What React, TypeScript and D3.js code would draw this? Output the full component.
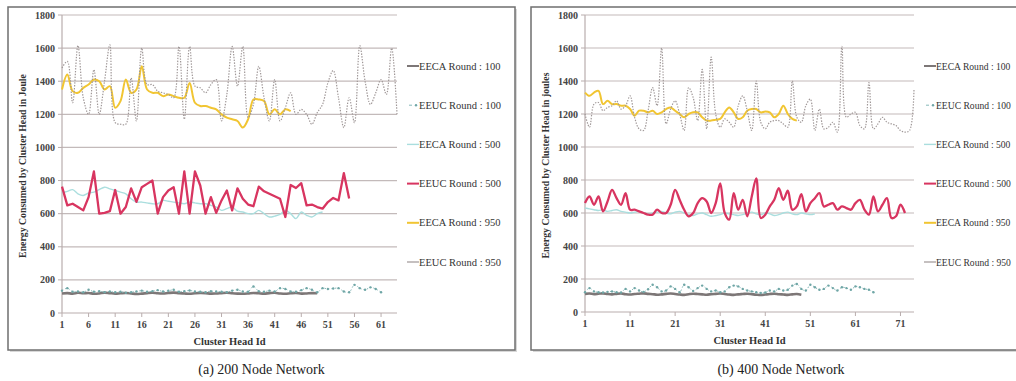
import React from 'react';
import * as d3 from 'd3';

const FONT = "'Liberation Serif', 'Times New Roman', serif";

const yTicks = [0, 200, 400, 600, 800, 1000, 1200, 1400, 1600, 1800];
const aXTicks = [1, 6, 11, 16, 21, 26, 31, 36, 41, 46, 51, 56, 61];
const bXTicks = [1, 11, 21, 31, 41, 51, 61, 71];
const seriesNames = ['EECA Round : 100', 'EEUC Round : 100', 'EECA Round : 500', 'EEUC Round : 500', 'EECA Round : 950', 'EEUC Round : 950'];

// (a) 200 node network
const aEECA100 = [118, 120, 117, 122, 119, 121, 116, 118, 123, 120, 117, 119, 121, 118, 115, 117, 120, 122, 119, 118, 121, 123, 120, 118, 116, 119, 121, 120, 117, 118, 120, 122, 119, 117, 116, 118, 121, 119, 117, 120, 122, 118, 116, 119, 121, 117, 118, 120, 119];
const aEEUC100 = [135, 150, 128, 130, 125, 140, 128, 132, 126, 130, 125, 128, 122, 126, 130, 135, 128, 132, 138, 130, 134, 140, 128, 132, 136, 130, 128, 125, 132, 130, 128, 126, 135, 140, 130, 128, 160, 132, 128, 135, 130, 150, 145, 130, 128, 138, 150, 140, 125, 150, 145, 148, 150, 130, 125, 170, 150, 140, 155, 145, 125];
const aEECA500 = [725, 735, 745, 720, 710, 725, 730, 745, 760, 750, 740, 730, 720, 690, 670, 670, 665, 660, 660, 680, 675, 670, 665, 660, 670, 665, 660, 660, 650, 640, 620, 630, 640, 615, 610, 600, 600, 620, 600, 580, 585, 595, 620, 600, 570, 610, 590, 580, 600, 610];
const aEEUC500 = [763, 650, 660, 640, 620, 700, 855, 600, 605, 615, 743, 600, 640, 753, 671, 760, 780, 800, 600, 700, 740, 760, 600, 855, 600, 855, 770, 600, 700, 605, 680, 740, 620, 753, 690, 655, 645, 763, 735, 720, 705, 690, 580, 773, 755, 784, 650, 655, 640, 630, 670, 695, 680, 845, 692];
const aEECA950 = [1350, 1440, 1340, 1330, 1360, 1380, 1410, 1400, 1350, 1370, 1240, 1280, 1410, 1330, 1350, 1490, 1350, 1330, 1330, 1310, 1320, 1310, 1300, 1300, 1390, 1270, 1250, 1250, 1240, 1230, 1200, 1180, 1170, 1160, 1120, 1170, 1290, 1290, 1280, 1200, 1230, 1200, 1230, 1220];
const aEEUC950 = [1480, 1520, 1270, 1615, 1300, 1200, 1470, 1200, 1400, 1620, 1150, 1140, 1140, 1420, 1160, 1600, 1380, 1380, 1340, 1330, 1320, 1300, 1610, 1170, 1610, 1370, 1360, 1330, 1380, 1410, 1160, 1320, 1610, 1370, 1610, 1180, 1260, 1490, 1300, 1160, 1410, 1160, 1240, 1330, 1200, 1230, 1200, 1140, 1210, 1260, 1390, 1465, 1300, 1120, 1300, 1150, 1615, 1400, 1260, 1330, 1410, 1320, 1600, 1200];

// (b) 400 node network
const bEECA100 = [110, 112, 108, 111, 113, 109, 107, 110, 112, 108, 106, 109, 111, 113, 110, 108, 105, 107, 110, 112, 109, 106, 104, 108, 111, 109, 107, 105, 108, 110, 112, 109, 106, 104, 107, 109, 111, 108, 105, 103, 106, 109, 111, 108, 106, 104, 107, 109, 105];
const bEEUC100 = [120, 145, 125, 120, 118, 122, 125, 120, 118, 140, 125, 145, 130, 122, 138, 165, 150, 125, 130, 155, 140, 120, 165, 150, 128, 145, 160, 140, 125, 130, 120, 125, 150, 160, 155, 140, 130, 125, 120, 115, 118, 130, 125, 140, 130, 135, 160, 170, 140, 130, 165, 150, 135, 140, 160, 145, 130, 150, 145, 135, 155, 150, 140, 135, 120];
const bEECA500 = [630, 625, 620, 615, 620, 610, 615, 620, 610, 605, 600, 605, 610, 600, 595, 600, 605, 610, 600, 595, 605, 610, 600, 590, 585, 595, 600, 590, 580, 585, 590, 600, 595, 590, 585, 590, 600, 605, 595, 590, 600, 595, 585, 590, 600, 605, 595, 590, 600, 595, 590, 595];
const bEEUC500 = [660, 700, 650, 700, 610, 670, 740, 690, 650, 720, 620, 620, 610, 600, 590, 590, 620, 600, 600, 650, 740, 680, 620, 580, 600, 660, 690, 670, 600, 660, 780, 600, 560, 720, 620, 680, 580, 700, 810, 570, 590, 640, 680, 750, 680, 735, 620, 640, 715, 610, 660, 690, 720, 640, 650, 660, 620, 640, 630, 620, 660, 680, 620, 590, 700, 610, 650, 690, 570, 580, 650, 600];
const bEECA950 = [1330, 1310, 1330, 1340, 1260, 1280, 1260, 1260, 1250, 1250, 1230, 1190, 1220, 1220, 1210, 1220, 1200, 1210, 1230, 1240, 1220, 1200, 1180, 1200, 1210, 1210, 1180, 1160, 1160, 1165, 1170, 1210, 1240, 1210, 1170, 1180, 1220, 1230, 1230, 1210, 1215, 1210, 1180, 1200, 1250, 1200, 1170, 1160];
const bEEUC950 = [1200, 1120, 1260, 1270, 1220, 1240, 1250, 1280, 1230, 1250, 1310, 1180, 1110, 1100, 1220, 1360, 1250, 1600, 1140, 1230, 1280, 1200, 1100, 1360, 1300, 1160, 1470, 1110, 1545, 1200, 1120, 1170, 1150, 1120, 1250, 1310, 1220, 1100, 1400, 1150, 1110, 1150, 1160, 1160, 1140, 1120, 1400, 1180, 1150, 1250, 1290, 1100, 1230, 1110, 1120, 1150, 1090, 1610, 1180, 1200, 1210, 1130, 1110, 1390, 1110, 1140, 1180, 1150, 1140, 1130, 1100, 1090, 1100, 1350];

interface SeriesStyle { color: string; width: number; dash?: string; marker?: boolean; }

const styles: SeriesStyle[] = [
  { color: '#7d7777', width: 2.6 },
  { color: '#86b8b8', width: 1, dash: '1.5 2', marker: true },
  { color: '#aadede', width: 1.4 },
  { color: '#d83560', width: 2.3 },
  { color: '#f1c532', width: 2 },
  { color: '#9f9797', width: 1.2, dash: '1.4 1.4' },
];

interface PanelProps {
  left: number; right: number; top: number; bottom: number;
  frame: [number, number, number, number];
  lastCat: number;
  xTicks: number[];
  series: number[][];
  sharp?: boolean[];
  legendX: number;
  legendFont: number;
  yTitle: string;
  caption: string;
}

function Panel(p: PanelProps) {
  const x = d3.scaleLinear().domain([1, p.lastCat]).range([p.left, p.right]);
  const y = d3.scaleLinear().domain([0, 1800]).range([p.bottom, p.top]);
  const legendY = d3.scalePoint<string>().domain(seriesNames).range([66, 262]);
  const midY = (p.top + p.bottom) / 2;
  const midX = (p.left + p.right) / 2;
  const [fx, fy, fw, fh] = p.frame;

  return (
    <g>
      <rect x={fx + 2} y={fy + 2} width={fw} height={fh} fill="#d8d8d8" />
      <rect x={fx} y={fy} width={fw} height={fh} fill="#fff" stroke="#6f6f6f" strokeWidth={1.5} />
      {yTicks.map(t => (
        <g key={t}>
          {t > 0 && <line x1={p.left} x2={p.right} y1={y(t)} y2={y(t)} stroke="#c3baba" strokeWidth={1.2} />}
          <line x1={p.left - 4} x2={p.left} y1={y(t)} y2={y(t)} stroke="#b9adad" />
          <text x={p.left - 7} y={y(t) + 3.5} textAnchor="end" fontFamily={FONT} fontSize={10} fontWeight="bold" fill="#444">{t}</text>
        </g>
      ))}
      <line x1={p.left} x2={p.left} y1={p.top} y2={p.bottom} stroke="#b9adad" strokeWidth={1.2} />
      <line x1={p.left} x2={p.right} y1={p.bottom} y2={p.bottom} stroke="#b9adad" strokeWidth={1.2} />
      {p.xTicks.map(t => (
        <g key={t}>
          <line x1={x(t)} x2={x(t)} y1={p.bottom} y2={p.bottom + 4} stroke="#b9adad" />
          <text x={x(t)} y={p.bottom + 15} textAnchor="middle" fontFamily={FONT} fontSize={10} fontWeight="bold" fill="#444">{t}</text>
        </g>
      ))}
      {p.series.map((vals, si) => {
        const st = styles[si];
        const line = d3.line<number>()
          .x((_, i) => x(i + 1))
          .y(v => y(v))
          .curve(p.sharp && p.sharp[si] ? d3.curveLinear : d3.curveCatmullRom.alpha(0.5));
        return (
          <g key={si}>
            <path d={line(vals) || ''} fill="none" stroke={st.color} strokeWidth={st.width}
              strokeDasharray={st.dash} strokeLinejoin="round" />
            {st.marker && vals.map((v, i) => (
              <circle key={i} cx={x(i + 1)} cy={y(v)} r={1.2} fill="#6fa6a6" />
            ))}
          </g>
        );
      })}
      {seriesNames.map((name, si) => {
        const st = styles[si];
        const ly = legendY(name)!;
        return (
          <g key={name}>
            {st.marker ? (
              <g>
                <line x1={p.legendX + 2} x2={p.legendX + 5} y1={ly} y2={ly} stroke={st.color} strokeWidth={1} />
                <circle cx={p.legendX + 9} cy={ly} r={1.2} fill="#6fa6a6" />
              </g>
            ) : (
              <line x1={p.legendX} x2={p.legendX + 12} y1={ly} y2={ly} stroke={st.color} strokeWidth={Math.min(st.width, 2)} />
            )}
            <text x={p.legendX + 12} y={ly + 3.5} fontFamily={FONT} fontSize={p.legendFont} fill="#333">{name}</text>
          </g>
        );
      })}
      <text transform={`translate(${fx + 18},${midY + 2}) rotate(-90)`} textAnchor="middle"
        fontFamily={FONT} fontSize={9.8} fontWeight="bold" fill="#333">{p.yTitle}</text>
      <text x={midX} y={p.bottom + 32} textAnchor="middle" fontFamily={FONT} fontSize={10.5} fontWeight="bold" fill="#333">Cluster Head Id</text>
      <text x={(fx + fx + fw) / 2} y={374} textAnchor="middle" fontFamily={FONT} fontSize={14} fill="#222">{p.caption}</text>
    </g>
  );
}

export default function App() {
  return (
    <svg width={1016} height={381} style={{ position: 'absolute', left: 0, top: 0, background: '#fff' }}>
      <Panel left={62} right={397} top={15} bottom={313} frame={[8, 7, 507, 343]}
        lastCat={64} xTicks={aXTicks}
        series={[aEECA100, aEEUC100, aEECA500, aEEUC500, aEECA950, aEEUC950]}
        sharp={[false, false, false, true, false, false]}
        legendX={407} legendFont={10.5}
        yTitle="Energy Consumed by Cluster Head in Joule"
        caption="(a) 200 Node Network" />
      <Panel left={585} right={914} top={15} bottom={312} frame={[531, 7, 500, 343]}
        lastCat={74} xTicks={bXTicks}
        series={[bEECA100, bEEUC100, bEECA500, bEEUC500, bEECA950, bEEUC950]}
        legendX={924} legendFont={9.6}
        yTitle="Energy Consumed by Cluster Head in joules"
        caption="(b) 400 Node Network" />
    </svg>
  );
}
